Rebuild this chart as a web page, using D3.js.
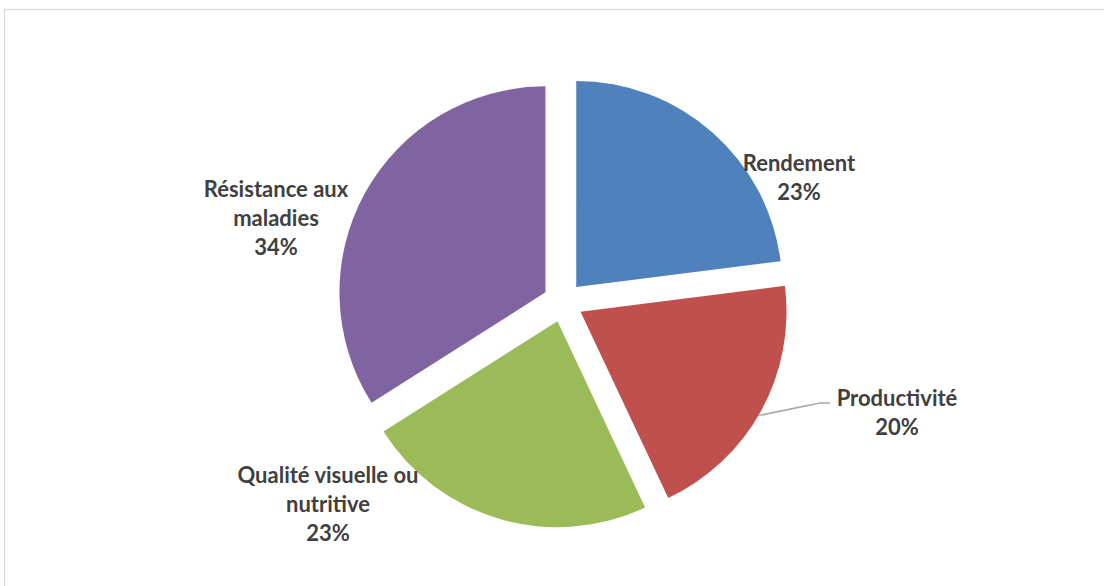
<!DOCTYPE html>
<html>
<head>
<meta charset="utf-8">
<script src="https://cdn.jsdelivr.net/npm/d3@7"></script>
<style>
  html, body { margin: 0; padding: 0; background: #ffffff; }
  svg { display: block; }
</style>
</head>
<body>
<svg id="chart" width="1104" height="586"></svg>
<script>
// Répartition des critères de sélection variétale
const categories = ["Rendement", "Productivité", "Qualité visuelle ou nutritive", "Résistance aux maladies"];
const values = [23, 20, 23, 34];
const labelLines = [["Rendement"], ["Productivité"], ["Qualité visuelle ou", "nutritive"], ["Résistance aux", "maladies"]];
const colors = ["#4F81BD", "#C0504D", "#9BBB59", "#8064A2"];

// Layout
const W = 1104, H = 586;
const cx = 563, cy = 302, radius = 206, explode = 20;
const labelPos = [
  { x: 799, y: 162 },
  { x: 897, y: 397 },
  { x: 328, y: 474 },
  { x: 276, y: 188 }
];
const lineHeight = 28.8;

const svg = d3.select("#chart");

// chart area frame
svg.append("rect")
  .attr("x", 4.5).attr("y", 9.5)
  .attr("width", W + 20).attr("height", H + 20)
  .attr("fill", "#ffffff")
  .attr("stroke", "#D9D9D9")
  .attr("stroke-width", 1.2);

const total = d3.sum(values);
const pie = d3.pie().sort(null).value(d => d)(values);
const arc = d3.arc().innerRadius(0).outerRadius(radius);

const g = svg.append("g").attr("transform", `translate(${cx},${cy})`);

g.selectAll("path.slice")
  .data(pie)
  .join("path")
  .attr("class", "slice")
  .attr("fill", (d, i) => colors[i])
  .attr("transform", d => {
    const a = (d.startAngle + d.endAngle) / 2;
    return `translate(${explode * Math.sin(a)},${-explode * Math.cos(a)})`;
  })
  .attr("d", arc);

// leader line for the "Productivité" label
{
  const d = pie[1];
  const a = (d.startAngle + d.endAngle) / 2;
  const ox = explode * Math.sin(a), oy = -explode * Math.cos(a);
  const edgeAngle = 2.1; // point on the rim where the leader starts
  const sx = cx + ox + radius * Math.sin(edgeAngle);
  const sy = cy + oy - radius * Math.cos(edgeAngle);
  const lp = labelPos[1];
  svg.append("polyline")
    .attr("points", `${sx},${sy} ${lp.x - 77},${lp.y + 6} ${lp.x - 67},${lp.y + 6}`)
    .attr("fill", "none")
    .attr("stroke", "#A6A6A6")
    .attr("stroke-width", 1.5);
}

// data labels
const labels = svg.append("g")
  .attr("font-family", "Lato, 'Open Sans', sans-serif")
  .attr("font-weight", "bold")
  .attr("font-size", 22)
  .attr("fill", "#404040")
  .attr("text-anchor", "middle");

categories.forEach((c, i) => {
  const lines = labelLines[i].concat([Math.round(values[i] / total * 100) + "%"]);
  const t = labels.append("text")
    .attr("x", labelPos[i].x)
    .attr("y", labelPos[i].y)
    .attr("dominant-baseline", "central");
  lines.forEach((ln, k) => {
    t.append("tspan")
      .attr("x", labelPos[i].x)
      .attr("y", labelPos[i].y + k * lineHeight)
      .text(ln);
  });
});
</script>
</body>
</html>
